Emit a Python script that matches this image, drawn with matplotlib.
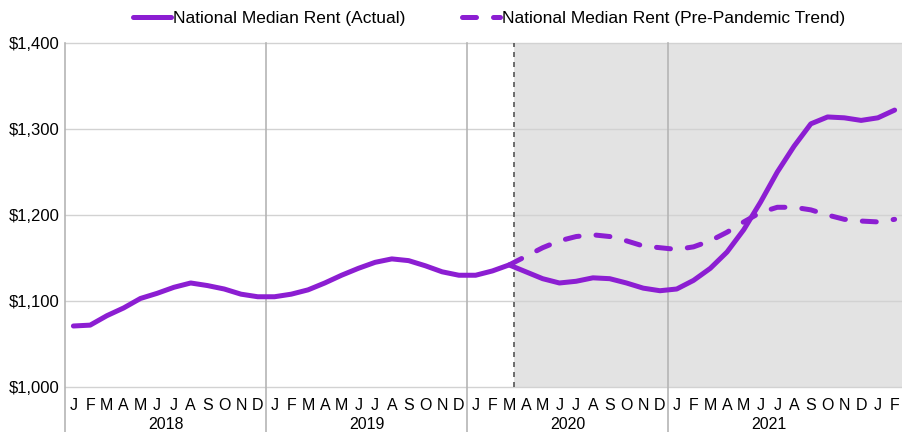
import matplotlib
matplotlib.use("Agg")
import matplotlib.pyplot as plt
import numpy as np

plt.rcParams["font.family"] = ["Liberation Sans", "DejaVu Sans"]

months = list("JFMAMJJASOND") * 4 + ["J", "F"]
years = ["2018", "2019", "2020", "2021"]

actual = [1071, 1072, 1083, 1092, 1103, 1109, 1116, 1121, 1118, 1114, 1108, 1105,
          1105, 1108, 1113, 1121, 1130, 1138, 1145, 1149, 1147, 1141, 1134, 1130,
          1130, 1135, 1142, 1134, 1126, 1121, 1123, 1127, 1126, 1121, 1115, 1112,
          1114, 1124, 1138, 1157, 1183, 1215, 1250, 1280, 1306, 1314, 1313, 1310,
          1313, 1322]
# pre-pandemic trend starts at Mar 2020
trend = [1142, 1152, 1162, 1170, 1175, 1177, 1175, 1170, 1164, 1162,
         1160, 1163, 1170, 1180, 1192, 1203, 1209, 1209, 1206, 1200, 1195, 1193,
         1192, 1195]
trend_start = 26

purple = "#8C1ED2"

fig = plt.figure(figsize=(9.03, 4.32), dpi=100)
ax = fig.add_axes([0.072, 0.104, 0.928, 0.7965])

x = np.arange(len(actual))
xt = np.arange(trend_start, trend_start + len(trend))

ax.set_xlim(-0.5, 49.5)
ax.set_ylim(1000, 1400)

ax.axvspan(26.3, 49.5, color="#E3E3E3", zorder=0, lw=0)
ax.axvline(26.3, color="#555555", ls=(0, (3, 3)), lw=1.2, zorder=1)

for yv in [1000, 1100, 1200, 1300, 1400]:
    ax.axhline(yv, color="#D2D2D2", lw=1, zorder=0.5, clip_on=False)

for b in [-0.5, 11.5, 23.5, 35.5]:
    ax.plot([b, b], [-0.135, 1], color="#B5B5B5", lw=1.2,
            transform=ax.get_xaxis_transform(), clip_on=False, zorder=0.6)

l1, = ax.plot(x, actual, color=purple, lw=3.6, solid_capstyle="round",
              solid_joinstyle="round", zorder=3)
l2, = ax.plot(xt, trend, color=purple, lw=3.6, ls=(0, (2.8, 3.4)),
              dash_capstyle="round", zorder=3)

ax.set_yticks([1000, 1100, 1200, 1300, 1400])
ax.set_yticklabels(["$1,000", "$1,100", "$1,200", "$1,300", "$1,400"], fontsize=12)
ax.tick_params(axis="y", length=0, pad=4)
ax.set_xticks(x)
ax.set_xticklabels(months, fontsize=11.5)
ax.tick_params(axis="x", length=0, pad=8)

for i, yr in enumerate(years):
    ax.text(i * 12 + 5.5, -0.11, yr, transform=ax.get_xaxis_transform(),
            ha="center", va="center", fontsize=11.5)

for s in ax.spines.values():
    s.set_visible(False)

fig.legend([l1, l2], ["National Median Rent (Actual)", "National Median Rent (Pre-Pandemic Trend)"],
           loc="upper center", bbox_to_anchor=(0.5415, 1.01), ncol=2, frameon=False,
           fontsize=12.5, handlelength=2.2, columnspacing=3.3, handletextpad=0.1)

fig.savefig("out.png", dpi=100)
